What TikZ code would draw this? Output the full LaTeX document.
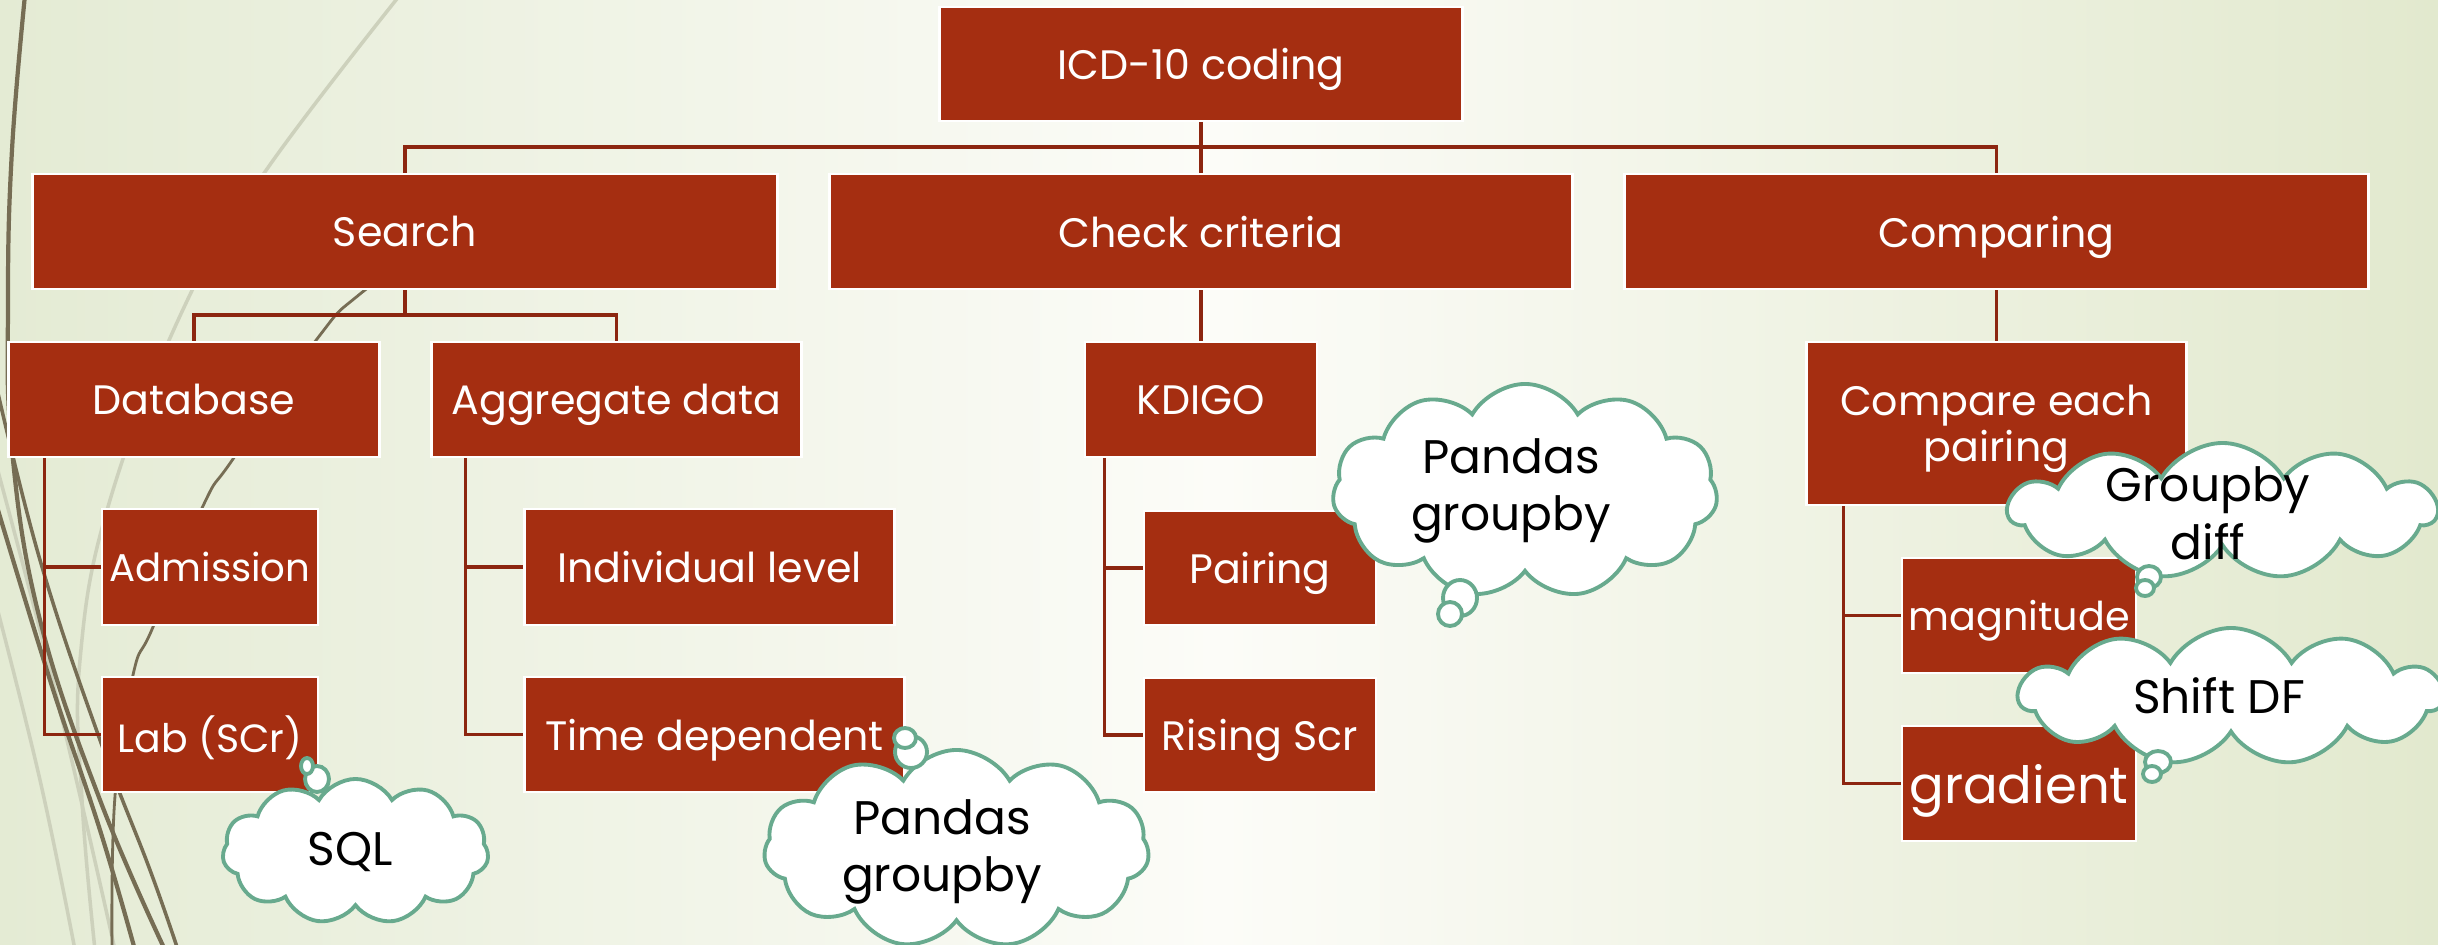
\documentclass[tikz,border=0pt]{standalone}
\usepackage{fontspec}
\setmainfont{Poppins}
\usetikzlibrary{shapes.symbols,calc}
\definecolor{boxred}{RGB}{165,46,17}
\definecolor{connred}{RGB}{140,38,16}
\definecolor{cloudline}{RGB}{104,170,142}
\definecolor{decodark}{RGB}{118,109,84}
\definecolor{decolight}{RGB}{205,209,188}
\definecolor{bgL}{RGB}{228,235,212}
\definecolor{bgM}{RGB}{252,252,248}
\definecolor{bgR}{RGB}{226,233,206}
\begin{document}
\begin{tikzpicture}[x=0.01cm,y=-0.01cm,
 box/.style={draw=white,line width=0.8pt,fill=boxred,text=white,inner sep=0pt,text depth=0pt,font=\fontsize{11.7}{13}\selectfont,align=center},
 conn/.style={draw=connred,line width=1.1pt},
 cloudy/.style={cloud,cloud puffs=11,cloud puff arc=120,cloud ignores aspect,draw=cloudline,line width=1.1pt,fill=white,inner sep=0pt},
 bub/.style={draw=cloudline,line width=1.1pt,fill=white},
 ctext/.style={text=black,font=\fontsize{13.4}{16.4}\selectfont,align=center,inner sep=0pt},
 decod/.style={draw=decodark,line cap=round},
 decol/.style={draw=decolight,line cap=round}]
\useasboundingbox (0,0) rectangle (2438,945);
\shade[left color=bgL,right color=bgR,middle color=bgM] (0,0) rectangle (2438,945);
\begin{scope}
\clip (0,0) rectangle (2438,945);
\draw[decol,line width=1pt] plot[smooth,tension=0.7] coordinates {(400,-5) (267,169) (187,301) (110,500) (80,660) (82,800) (95,950)};
\draw[decol,line width=1pt] plot[smooth,tension=0.7] coordinates {(-5,460) (55,690) (115,950)};
\draw[decol,line width=1pt] plot[smooth,tension=0.7] coordinates {(-5,600) (40,780) (75,950)};
\draw[decod,line width=1.2pt] plot[smooth,tension=0.7] coordinates {(25,-5) (12,150) (8,300) (12,450) (40,620) (100,800) (165,950)};
\draw[decod,line width=1pt] plot[smooth,tension=0.7] coordinates {(-5,380) (40,560) (100,740) (150,870) (178,950)};
\draw[decod,line width=1.2pt] plot[smooth,tension=0.7] coordinates {(-5,500) (50,680) (100,830) (135,950)};
\draw[decod,line width=0.8pt] plot[smooth,tension=0.7] coordinates {(450,230) (360,294) (317,339) (233,459) (203,506) (153,627) (133,675) (115,796) (112,950)};
\end{scope}
% boxes
\node[box,minimum width=5.22cm,minimum height=1.14cm] (icd) at (1201,64) {ICD-10 coding};
\node[box,minimum width=7.44cm,minimum height=1.15cm] (search) at (405,231.5) {Search};
\node[box,minimum width=7.42cm,minimum height=1.15cm] (check) at (1201,231.5) {Check criteria};
\node[box,minimum width=7.43cm,minimum height=1.15cm] (comparing) at (1996.5,231.5) {Comparing};
\node[box,minimum width=3.70cm,minimum height=1.15cm] (database) at (194,399.5) {Database};
\node[box,minimum width=3.69cm,minimum height=1.15cm] (aggregate) at (616.5,399.5) {Aggregate data};
\node[box,minimum width=2.32cm,minimum height=1.15cm] (kdigo) at (1201,399.5) {KDIGO};
\node[box,minimum width=3.79cm,minimum height=1.63cm] (compare) at (1996.5,423.5) {Compare each\\pairing};
\node[box,minimum width=2.16cm,minimum height=1.16cm,font=\fontsize{11}{13}\selectfont] (admission) at (210,567) {Admission};
\node[box,minimum width=2.16cm,minimum height=1.15cm,font=\fontsize{11.2}{13}\selectfont] (lab) at (210,734.5) {Lab (SCr)};
\node[box,minimum width=3.69cm,minimum height=1.16cm] (individual) at (709.5,567) {Individual level};
\node[box,minimum width=3.79cm,minimum height=1.15cm] (timedep) at (714.5,734.5) {Time dependent};
\node[box,minimum width=2.32cm,minimum height=1.14cm] (pairing) at (1260,568) {Pairing};
\node[box,minimum width=2.32cm,minimum height=1.14cm] (rising) at (1260,735) {Rising Scr};
\node[box,minimum width=2.34cm,minimum height=1.15cm,font=\fontsize{11.3}{13}\selectfont] (magnitude) at (2019,615.5) {magnitude};
\node[box,minimum width=2.34cm,minimum height=1.15cm,font=\fontsize{14.6}{16}\selectfont] (gradient) at (2019,783.5) {gradient};
% connectors
\coordinate (j0) at (1201,147);
\coordinate (j1) at (405,315);
\draw[conn] (search.north) |- (j0) -| (comparing.north);
\draw[conn] (icd.south) -- (check.north);
\draw[conn] (search.south) -- (j1);
\draw[conn] (database.north) |- (j1) -| (aggregate.north);
\draw[conn] (check.south) -- (kdigo.north);
\draw[conn] (comparing.south) -- (compare.north);
\draw[conn] (database.south west) ++(37,0) |- (admission.west);
\draw[conn] (database.south west) ++(37,0) |- (lab.west);
\draw[conn] (aggregate.south west) ++(35,0) |- (individual.west);
\draw[conn] (aggregate.south west) ++(35,0) |- (timedep.west);
\draw[conn] (kdigo.south west) ++(21,0) |- (pairing.west);
\draw[conn] (kdigo.south west) ++(21,0) |- (rising.west);
\draw[conn] (compare.south west) ++(38,0) |- (magnitude.west);
\draw[conn] (compare.south west) ++(38,0) |- (gradient.west);
% clouds
\node[cloudy,minimum width=2.66cm,minimum height=1.45cm] (c1) at (355.5,851.5) {};
\node[ctext] (t1) at (350,852) {SQL};
\draw[bub] (317,779) ellipse [x radius=12,y radius=13];
\draw[bub] (307,766) ellipse [x radius=6,y radius=8];
\node[cloudy,minimum width=3.85cm,minimum height=1.98cm] (c2) at (956.5,849) {};
\node[ctext] (t2) at (942,852) {Pandas\\groupby};
\draw[bub] (911,752) ellipse [x radius=16,y radius=16];
\draw[bub] (905,738) ellipse [x radius=11,y radius=10];
\node[cloudy,minimum width=3.85cm,minimum height=2.14cm] (c3) at (1525,491) {};
\node[ctext] (t3) at (1511,491) {Pandas\\groupby};
\draw[bub] (1460,598) ellipse [x radius=17,y radius=18];
\draw[bub] (1450,614) ellipse [x radius=12,y radius=12];
\node[cloudy,minimum width=4.28cm,minimum height=1.36cm] (c4) at (2222.5,511) {};
\node[ctext] (t4) at (2208,513) {Groupby\\diff};
\draw[bub] (2149,577) ellipse [x radius=12,y radius=11];
\draw[bub] (2145,588) ellipse [x radius=9,y radius=8];
\node[cloudy,minimum width=4.24cm,minimum height=1.37cm] (c5) at (2231,696.5) {};
\node[ctext] (t5) at (2219,696) {Shift DF};
\draw[bub] (2158,762) ellipse [x radius=13,y radius=11];
\draw[bub] (2152,774) ellipse [x radius=9,y radius=8];
\end{tikzpicture}
\end{document}
